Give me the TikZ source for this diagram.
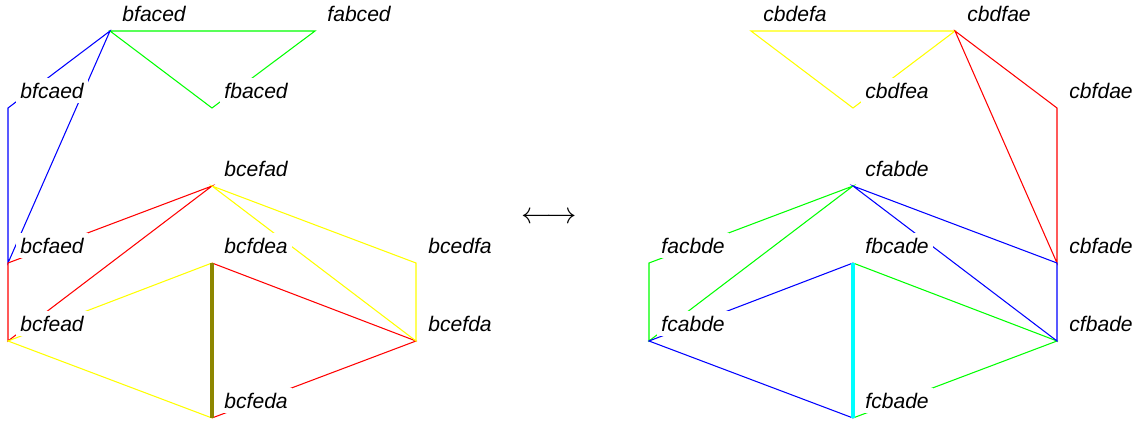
\documentclass[tikz,border=0pt]{standalone}
\usepackage{fontspec}
\newfontfamily\lblfont{Liberation Sans}
\definecolor{aqua}{RGB}{0,255,255}
\definecolor{lime}{RGB}{0,255,0}
\definecolor{lemon}{RGB}{255,255,0}
\begin{document}
\begin{tikzpicture}[x=0.02cm, y=-0.02cm, line width=0.6pt,
  lbl/.style={anchor=base west, fill=white, inner sep=2.5pt, xshift=0.15cm, yshift=0.2cm, font=\fontsize{12}{14}\selectfont\lblfont\itshape}]
\useasboundingbox (0,0) rectangle (1147,429);

% left graph
\coordinate (bfaced) at (110,31);
\coordinate (fabced) at (315,31);
\coordinate (bfcaed) at (8,108);
\coordinate (fbaced) at (212,108);
\coordinate (bcefad) at (212,186);
\coordinate (bcfaed) at (8,263);
\coordinate (bcfdea) at (212,263);
\coordinate (bcedfa) at (416,263);
\coordinate (bcfead) at (8,341);
\coordinate (bcefda) at (416,341);
\coordinate (bcfeda) at (212,418);

% right graph
\coordinate (cbdefa) at (751,31);
\coordinate (cbdfae) at (955,31);
\coordinate (cbdfea) at (853,108);
\coordinate (cbfdae) at (1057,108);
\coordinate (cfabde) at (853,186);
\coordinate (facbde) at (649,263);
\coordinate (fbcade) at (853,263);
\coordinate (cbfade) at (1057,263);
\coordinate (fcabde) at (649,341);
\coordinate (cfbade) at (1057,341);
\coordinate (fcbade) at (853,418);

\draw [lime] (bfaced)--(fabced)--(fbaced)--cycle;
\draw [blue] (bfcaed)--(bfaced)--(bcfaed)--cycle;
\draw [red] (bcfaed)--(bcefad)--(bcfead)--cycle (bcfdea)--(bcefda)--(bcfeda);
\draw [lemon] (bcefda)--(bcefad)--(bcedfa)--cycle (bcfdea)--(bcfead)--(bcfeda);
\draw [olive, line width=2.3pt] (bcfdea)--(bcfeda);

\draw [lemon] (cbdefa)--(cbdfae)--(cbdfea)--cycle;
\draw [red] (cbfade)--(cbdfae)--(cbfdae)--cycle;
\draw [lime] (facbde)--(cfabde)--(fcabde)--cycle (fbcade)--(cfbade)--(fcbade);
\draw [blue] (cbfade)--(cfabde)--(cfbade)--cycle (fbcade)--(fcabde)--(fcbade);
\draw [aqua, line width=2.3pt] (fbcade)--(fcbade);

\foreach \v in {bfaced,fabced,bfcaed,fbaced,bcefad,bcfaed,bcfdea,bcedfa,bcfead,bcefda,bcfeda,
  cbdefa,cbdfae,cbdfea,cbfdae,cfabde,facbde,fbcade,cbfade,fcabde,cfbade,fcbade}
  \node [lbl] (l\v) at (\v) {\v};

\node [font=\LARGE] (iso) at (549,218) {$\longleftrightarrow$};
\end{tikzpicture}
\end{document}
